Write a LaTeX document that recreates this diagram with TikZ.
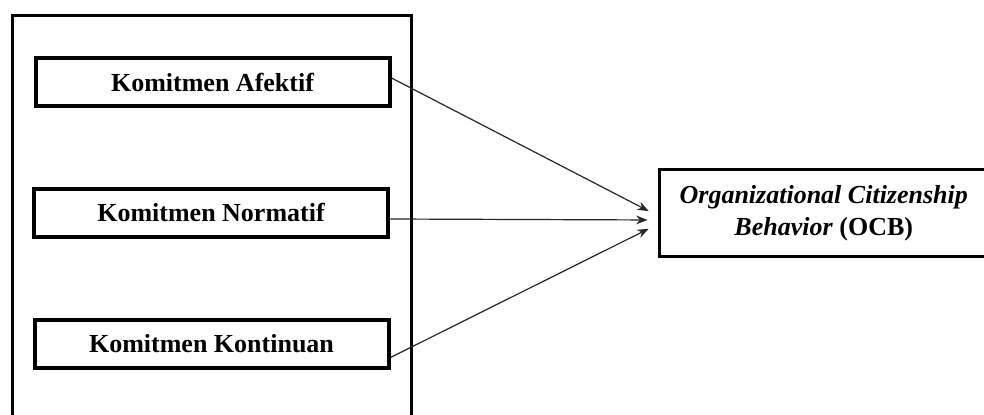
\documentclass[tikz,border=0pt]{standalone}
\usepackage{fontspec}
\setmainfont{Liberation Serif}
\usetikzlibrary{arrows.meta,calc}
\begin{document}
\begin{tikzpicture}[x=0.75pt,y=-0.75pt,
  varbox/.style={draw=black,line width=3pt,fill=white,minimum width=265.5pt,
    minimum height=36pt,inner sep=0pt,font=\fontsize{19.5}{23}\selectfont\bfseries},
  groupbox/.style={draw=black,line width=2.3pt},
  ocbbox/.style={draw=black,line width=2.3pt,fill=white,minimum width=246pt,
    minimum height=65pt,inner sep=0pt,align=center,
    font=\fontsize{19.5}{23}\selectfont\bfseries},
  link/.style={draw=black!85,line width=0.9pt,
    -{Stealth[length=8.5pt,width=6.5pt]},shorten >=8pt}]
  \useasboundingbox (0,0) rectangle (984,414);
  \clip (0,0) rectangle (984,414);
  \fill[white] (0,0) rectangle (984,414);
  % enclosing frame of the three commitment dimensions
  \draw[groupbox] (12.5,15.5) rectangle (411.5,440);
  % commitment dimensions
  \node[varbox] (afektif)   at (212.5,82)   {Komitmen Afektif};
  \node[varbox] (normatif)  at (211,212.5)  {Komitmen Normatif};
  \node[varbox] (kontinuan) at (211.5,343.5) {Komitmen Kontinuan};
  % outcome variable
  \node[ocbbox] (ocb) at (823.75,213)
    {\textit{Organizational Citizenship}\\[1pt]\textit{Behavior} (OCB)};
  % paths
  \draw[link] ($(afektif.east)+(0,-4)$) -- ($(ocb.west)+(0,3)$);
  \draw[link] (normatif.east |- 0,219) -- ($(ocb.west)+(0,7)$);
  \draw[link] ($(kontinuan.east)+(0,14)$) -- ($(ocb.west)+(0,11)$);
\end{tikzpicture}
\end{document}
